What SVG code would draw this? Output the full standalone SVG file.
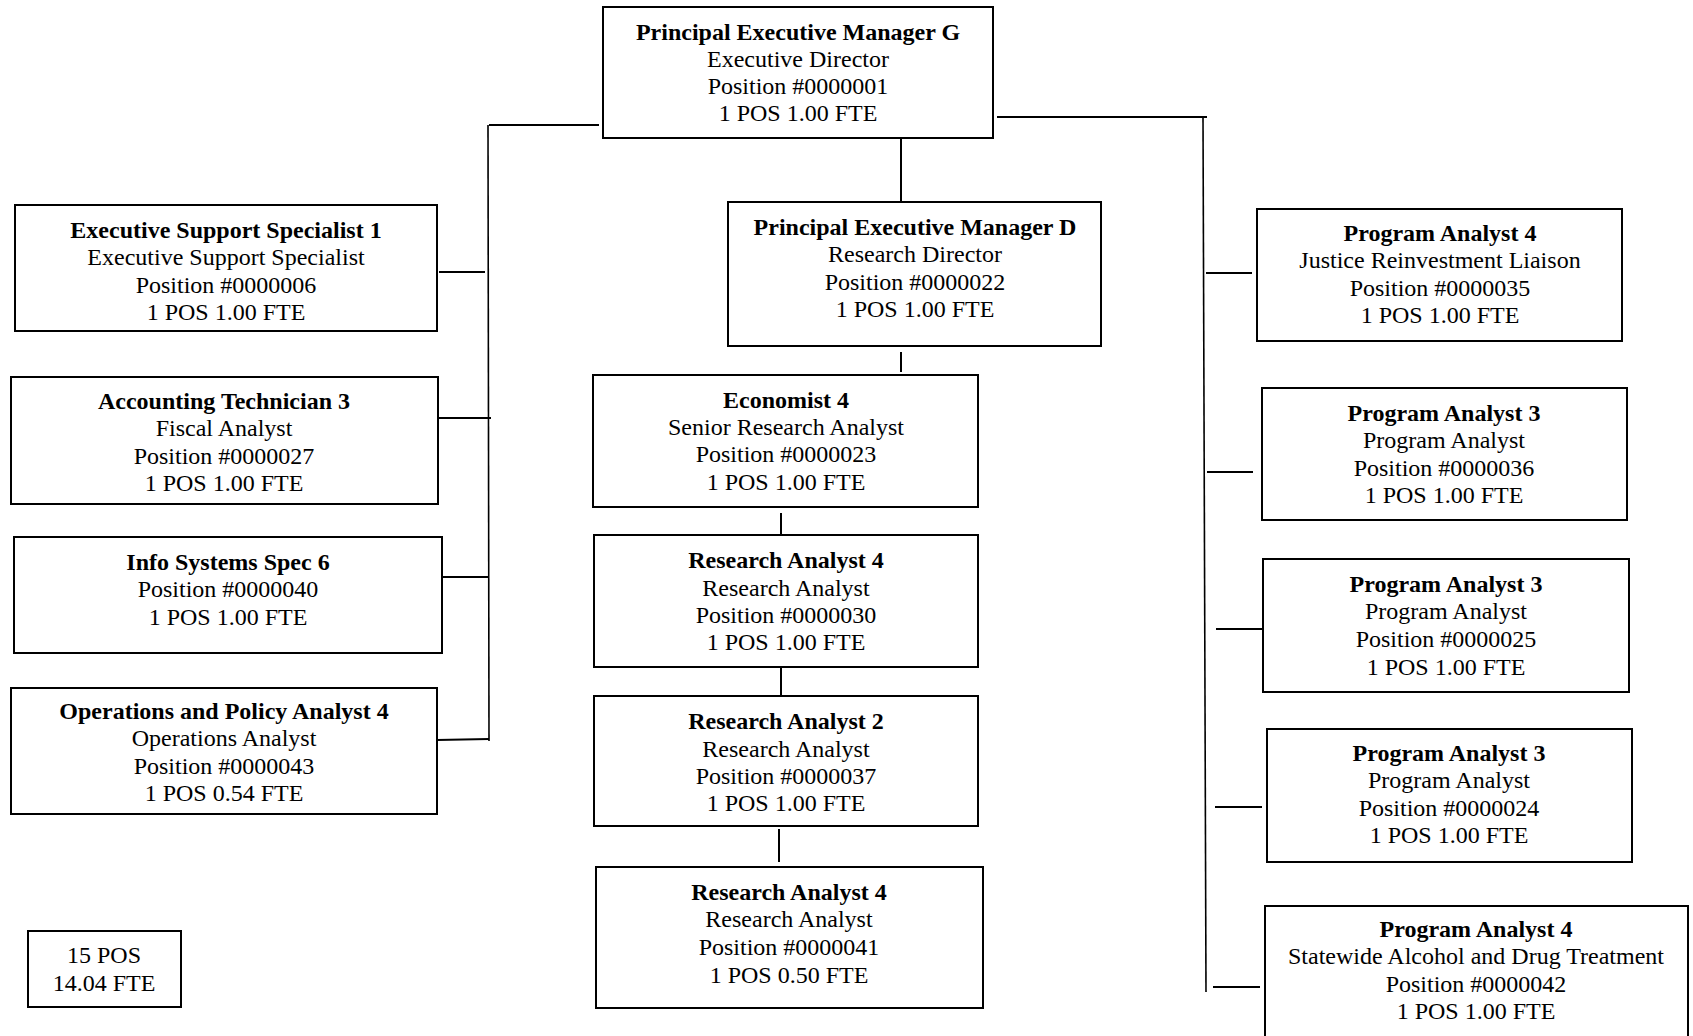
<svg xmlns="http://www.w3.org/2000/svg" width="1693" height="1036" viewBox="0 0 1693 1036">
<style>
.box{fill:#fff;stroke:#000;stroke-width:2}
.ln{stroke:#000;stroke-width:2;fill:none}
.thin{stroke:#000;stroke-width:1.6;fill:none}
text{font-family:"Liberation Serif","Times New Roman",serif;font-size:24px;fill:#000;text-anchor:middle}
.t{font-weight:bold}
</style>
<rect width="1693" height="1036" fill="#fff"/>
<g id="connectors">
<line class="ln" x1="489" y1="125" x2="599" y2="125"/>
<line class="thin" x1="488" y1="125" x2="489" y2="741"/>
<line class="ln" x1="439" y1="272" x2="485" y2="272"/>
<line class="ln" x1="437" y1="418" x2="491" y2="418"/>
<line class="ln" x1="442" y1="577" x2="489" y2="577"/>
<line class="ln" x1="437" y1="740" x2="489" y2="739"/>
<line class="ln" x1="901" y1="138" x2="901" y2="202"/>
<line class="ln" x1="901" y1="352" x2="901" y2="372"/>
<line class="ln" x1="781" y1="513" x2="781" y2="535"/>
<line class="ln" x1="781" y1="667" x2="781" y2="696"/>
<line class="ln" x1="779" y1="829" x2="779" y2="862"/>
<line class="ln" x1="997" y1="117" x2="1207" y2="117"/>
<line class="thin" x1="1203" y1="117" x2="1206" y2="992"/>
<line class="ln" x1="1206" y1="273" x2="1252" y2="273"/>
<line class="ln" x1="1207" y1="472" x2="1253" y2="472"/>
<line class="ln" x1="1216" y1="629" x2="1262" y2="629"/>
<line class="ln" x1="1215" y1="807" x2="1262" y2="807"/>
<line class="ln" x1="1213" y1="987" x2="1260" y2="987"/>
</g>
<g id="pem-g">
<rect class="box" x="603" y="7" width="390" height="131"/>
<text class="t" x="798" y="40">Principal Executive Manager G</text>
<text x="798" y="67">Executive Director</text>
<text x="798" y="94">Position #0000001</text>
<text x="798" y="121">1 POS 1.00 FTE</text>
</g>
<g id="ess1">
<rect class="box" x="15" y="205" width="422" height="126"/>
<text class="t" x="226" y="238">Executive Support Specialist 1</text>
<text x="226" y="265">Executive Support Specialist</text>
<text x="226" y="293">Position #0000006</text>
<text x="226" y="320">1 POS 1.00 FTE</text>
</g>
<g id="at3">
<rect class="box" x="11" y="377" width="427" height="127"/>
<text class="t" x="224" y="409">Accounting Technician 3</text>
<text x="224" y="436">Fiscal Analyst</text>
<text x="224" y="464">Position #0000027</text>
<text x="224" y="491">1 POS 1.00 FTE</text>
</g>
<g id="iss6">
<rect class="box" x="14" y="537" width="428" height="116"/>
<text class="t" x="228" y="570">Info Systems Spec 6</text>
<text x="228" y="597">Position #0000040</text>
<text x="228" y="625">1 POS 1.00 FTE</text>
</g>
<g id="opa4">
<rect class="box" x="11" y="688" width="426" height="126"/>
<text class="t" x="224" y="719">Operations and Policy Analyst 4</text>
<text x="224" y="746">Operations Analyst</text>
<text x="224" y="774">Position #0000043</text>
<text x="224" y="801">1 POS 0.54 FTE</text>
</g>
<g id="pem-d">
<rect class="box" x="728" y="202" width="373" height="144"/>
<text class="t" x="915" y="235">Principal Executive Manager D</text>
<text x="915" y="262">Research Director</text>
<text x="915" y="290">Position #0000022</text>
<text x="915" y="317">1 POS 1.00 FTE</text>
</g>
<g id="econ4">
<rect class="box" x="593" y="375" width="385" height="132"/>
<text class="t" x="786" y="408">Economist 4</text>
<text x="786" y="435">Senior Research Analyst</text>
<text x="786" y="462">Position #0000023</text>
<text x="786" y="490">1 POS 1.00 FTE</text>
</g>
<g id="ra4-30">
<rect class="box" x="594" y="535" width="384" height="132"/>
<text class="t" x="786" y="568">Research Analyst 4</text>
<text x="786" y="596">Research Analyst</text>
<text x="786" y="623">Position #0000030</text>
<text x="786" y="650">1 POS 1.00 FTE</text>
</g>
<g id="ra2-37">
<rect class="box" x="594" y="696" width="384" height="130"/>
<text class="t" x="786" y="729">Research Analyst 2</text>
<text x="786" y="757">Research Analyst</text>
<text x="786" y="784">Position #0000037</text>
<text x="786" y="811">1 POS 1.00 FTE</text>
</g>
<g id="ra4-41">
<rect class="box" x="596" y="867" width="387" height="141"/>
<text class="t" x="789" y="900">Research Analyst 4</text>
<text x="789" y="927">Research Analyst</text>
<text x="789" y="955">Position #0000041</text>
<text x="789" y="983">1 POS 0.50 FTE</text>
</g>
<g id="pa4-35">
<rect class="box" x="1257" y="209" width="365" height="132"/>
<text class="t" x="1440" y="241">Program Analyst 4</text>
<text x="1440" y="268">Justice Reinvestment Liaison</text>
<text x="1440" y="296">Position #0000035</text>
<text x="1440" y="323">1 POS 1.00 FTE</text>
</g>
<g id="pa3-36">
<rect class="box" x="1262" y="388" width="365" height="132"/>
<text class="t" x="1444" y="421">Program Analyst 3</text>
<text x="1444" y="448">Program Analyst</text>
<text x="1444" y="476">Position #0000036</text>
<text x="1444" y="503">1 POS 1.00 FTE</text>
</g>
<g id="pa3-25">
<rect class="box" x="1263" y="559" width="366" height="133"/>
<text class="t" x="1446" y="592">Program Analyst 3</text>
<text x="1446" y="619">Program Analyst</text>
<text x="1446" y="647">Position #0000025</text>
<text x="1446" y="675">1 POS 1.00 FTE</text>
</g>
<g id="pa3-24">
<rect class="box" x="1267" y="729" width="365" height="133"/>
<text class="t" x="1449" y="761">Program Analyst 3</text>
<text x="1449" y="788">Program Analyst</text>
<text x="1449" y="816">Position #0000024</text>
<text x="1449" y="843">1 POS 1.00 FTE</text>
</g>
<g id="pa4-42">
<rect class="box" x="1265" y="906" width="423" height="140"/>
<text class="t" x="1476" y="937">Program Analyst 4</text>
<text x="1476" y="964">Statewide Alcohol and Drug Treatment</text>
<text x="1476" y="992">Position #0000042</text>
<text x="1476" y="1019">1 POS 1.00 FTE</text>
</g>
<g id="total">
<rect class="box" x="28" y="931" width="153" height="76"/>
<text x="104" y="963">15 POS</text>
<text x="104" y="991">14.04 FTE</text>
</g>
</svg>
